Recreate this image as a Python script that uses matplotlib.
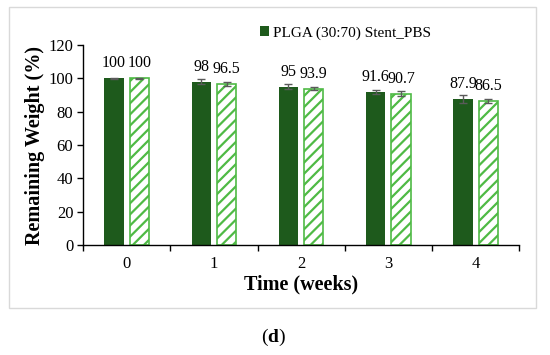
import matplotlib as mpl
import matplotlib.pyplot as plt
import numpy as np
from matplotlib.patches import Rectangle

mpl.use("Agg")

plt.rcParams["font.family"] = ["Liberation Serif", "DejaVu Serif"]
plt.rcParams["mathtext.fontset"] = "custom"
plt.rcParams["mathtext.rm"] = "Liberation Serif"
plt.rcParams["mathtext.bf"] = "Liberation Serif:bold"
plt.rcParams["hatch.linewidth"] = 1.6

weeks = ["0", "1", "2", "3", "4"]
stent_plga = [100, 98, 95, 91.6, 87.9]
stent_plga_err = [0.3, 1.5, 1.5, 1.2, 2.4]
stent_pbs = [100, 96.5, 93.9, 90.7, 86.5]
stent_pbs_err = [0.3, 1.2, 1.0, 1.5, 1.0]
legend_label = "PLGA (30:70) Stent_PBS"

dark_green = "#1e5a1c"
light_green = "#4fba45"
err_color = "#5a5a5a"

fig = plt.figure(figsize=(5.5, 3.55), dpi=100)
ax = fig.add_axes([0.151, 0.310, 0.793, 0.563])

# light grey frame round the chart area
fig.patches.append(
    Rectangle((0.0164, 0.1324), 0.958, 0.848, transform=fig.transFigure,
              fill=False, edgecolor="#d9d9d9", linewidth=1.0)
)

x = np.arange(len(weeks))
width = 0.22
off = 0.145

bars1 = ax.bar(x - off, stent_plga, width, color=dark_green, label=legend_label,
               yerr=stent_plga_err, capsize=3,
               error_kw=dict(ecolor=err_color, elinewidth=1, capthick=1))
bars2 = ax.bar(x + off, stent_pbs, width, color="white", edgecolor=light_green,
               hatch="///", linewidth=1.2,
               yerr=stent_pbs_err, capsize=3,
               error_kw=dict(ecolor=err_color, elinewidth=1, capthick=1))

for xs, vals in [(x - off, stent_plga), (x + off, stent_pbs)]:
    for xi, v in zip(xs, vals):
        ax.annotate(f"{v:g}", (xi, v), xytext=(0, 5), textcoords="offset points",
                    ha="center", va="bottom", fontsize=11.5)

ax.set_xlim(-0.5, 4.5)
ax.set_ylim(0, 120)
ax.set_yticks(range(0, 121, 20))
ax.set_xticks(x)
ax.set_xticklabels(weeks)
ax.set_xticks(np.arange(-0.5, 4.6, 1), minor=True)
ax.tick_params(axis="x", which="major", length=0, pad=8, labelsize=12)
ax.tick_params(axis="x", which="minor", length=4, width=1, direction="out")
ax.tick_params(axis="y", length=4, width=1, labelsize=12, pad=3)

for side in ["top", "right"]:
    ax.spines[side].set_visible(False)
ax.spines["left"].set_linewidth(1)
ax.spines["bottom"].set_linewidth(1)

ax.set_xlabel("Time (weeks)", fontsize=14.5, fontweight="bold", labelpad=2)
ax.set_ylabel("Remaining Weight (%)", fontsize=14.5, fontweight="bold")
ax.yaxis.set_label_coords(-0.087, 0.5)

fig.legend(handles=[bars1], loc="center left", bbox_to_anchor=(0.458, 0.907),
           frameon=False, fontsize=11, handlelength=0.6, handleheight=0.6,
           handletextpad=0.3, borderpad=0)

fig.text(0.497, 0.05, r"($\mathbf{d}$)", ha="center", va="center", fontsize=14)

fig.savefig("out.png", dpi=100)
